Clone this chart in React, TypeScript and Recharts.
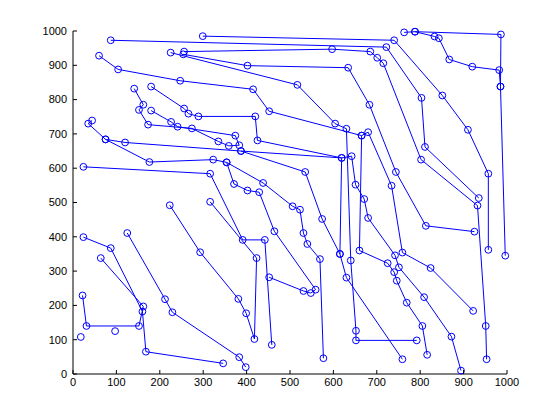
import { ScatterChart, Scatter, XAxis, YAxis } from 'recharts';

type Pt = [number, number];

const tickValues = [0, 100, 200, 300, 400, 500, 600, 700, 800, 900, 1000];

// path pieces, in drawing order
const chain01: Pt[] = [[87, 973], [722, 953], [803, 805], [811, 662], [935, 513]];
const chain02: Pt[] = [[299, 985], [740, 973], [851, 812], [910, 712], [957, 584], [957, 362]];
const chain03: Pt[] = [[763, 996], [788, 998], [986, 990], [985, 838]];
const chain04: Pt[] = [[788, 998], [833, 984], [843, 979], [867, 917], [920, 896], [982, 886], [985, 838], [996, 345]];
const chain05: Pt[] = [[254, 932], [402, 899], [634, 893], [683, 785], [744, 589], [813, 432], [925, 415]];
const chain06: Pt[] = [[256, 940], [597, 947], [685, 940], [701, 922], [715, 906], [802, 625], [932, 491], [951, 140], [953, 43]];
const chain07: Pt[] = [[225, 937], [517, 843], [604, 730], [630, 715], [640, 331], [652, 126], [652, 98], [792, 98]];
const chain08: Pt[] = [[60, 928], [104, 888], [247, 855], [415, 830], [452, 766], [665, 695], [660, 360], [725, 323], [740, 297], [746, 272], [769, 208], [805, 140], [816, 56]];
const chain09: Pt[] = [[141, 832], [162, 785], [152, 770], [173, 727], [274, 716], [335, 678], [359, 665], [383, 667], [374, 695], [241, 721], [226, 735], [180, 768]];
const chain10: Pt[] = [[180, 838], [256, 774], [266, 759], [289, 751], [420, 751], [425, 681], [619, 630], [642, 635], [651, 552], [671, 510], [680, 455], [742, 346], [751, 311], [809, 224], [872, 109], [894, 10]];
const chain11: Pt[] = [[44, 739], [35, 730], [75, 684], [120, 675], [387, 650], [619, 630], [615, 350], [630, 281], [759, 43]];
const chain12: Pt[] = [[665, 695], [680, 705], [734, 549], [759, 354], [824, 309], [922, 184]];
const chain13: Pt[] = [[75, 684], [176, 618], [323, 625], [354, 617], [438, 557], [506, 489], [523, 479], [531, 411], [540, 379], [569, 335], [577, 46]];
const chain14: Pt[] = [[387, 650], [535, 589], [574, 452], [615, 350]];
const chain15: Pt[] = [[24, 604], [316, 584], [391, 391], [442, 391], [458, 85]];
const chain16: Pt[] = [[354, 617], [371, 554], [402, 535], [429, 530], [464, 416], [559, 246], [548, 236], [531, 242], [452, 282]];
const chain17: Pt[] = [[223, 492], [293, 355], [381, 219], [399, 177], [418, 102], [423, 338], [316, 502]];
const chain18: Pt[] = [[24, 399], [87, 367], [160, 182], [168, 65], [346, 31]];
const chain19: Pt[] = [[22, 229], [31, 140], [152, 140], [162, 197], [64, 338]];
const chain20: Pt[] = [[125, 411], [212, 218], [229, 180], [383, 49], [398, 20]];
const loosePoints: Pt[] = [[18, 108], [97, 125]];

const chains = [
    chain01, chain02, chain03, chain04, chain05, chain06, chain07, chain08, chain09, chain10,
    chain11, chain12, chain13, chain14, chain15, chain16, chain17, chain18, chain19, chain20,
];

const BLUE = '#0000ff';
const FONT = '"Liberation Sans", Arial, sans-serif';

const toXY = (c: Pt[]) => c.map(([x, y]) => ({ x, y }));

function Ring(props: any) {
    const { cx, cy } = props;
    return <circle cx={cx} cy={cy} r={3.4} fill="none" stroke={BLUE} strokeWidth={1} />;
}

// MATLAB style ticks: marks point into the plot
function YTick(props: any) {
    const { x, y, payload } = props;
    return (
        <g>
            <line x1={x + 6} x2={x + 10} y1={y} y2={y} stroke="#000" />
            <text x={x} y={y} dy="0.35em" textAnchor="end" fontSize={11} fontFamily={FONT} fill="#000">
                {payload.value}
            </text>
        </g>
    );
}

function XTick(props: any) {
    const { x, y, payload } = props;
    return (
        <g>
            <line x1={x} x2={x} y1={y - 4} y2={y - 8} stroke="#000" />
            <text x={x} y={y} dy="0.71em" textAnchor="middle" fontSize={11} fontFamily={FONT} fill="#000">
                {payload.value}
            </text>
        </g>
    );
}

function App() {
    return (
        <div style={{ position: 'absolute', left: 0, top: 0, width: 560, height: 420, background: '#fff' }}>
            <ScatterChart width={560} height={420} margin={{ top: 31, right: 53, bottom: 0, left: 0 }}>
                <XAxis
                    type="number"
                    dataKey="x"
                    domain={[0, 1000]}
                    ticks={tickValues}
                    interval={0}
                    height={46}
                    tickSize={0}
                    tickMargin={4}
                    tickLine={false}
                    axisLine={{ stroke: '#000' }}
                    tick={<XTick />}
                />
                <YAxis
                    type="number"
                    dataKey="y"
                    domain={[0, 1000]}
                    ticks={tickValues}
                    interval={0}
                    width={73}
                    tickSize={0}
                    tickMargin={6}
                    tickLine={false}
                    axisLine={{ stroke: '#000' }}
                    tick={<YTick />}
                />
                {chains.map((c, i) => (
                    <Scatter
                        key={i}
                        data={toXY(c)}
                        line={{ stroke: BLUE, strokeWidth: 1 }}
                        lineType="joint"
                        shape={<Ring />}
                        isAnimationActive={false}
                    />
                ))}
                <Scatter data={toXY(loosePoints)} shape={<Ring />} isAnimationActive={false} />
            </ScatterChart>
        </div>
    );
}

export default App;
